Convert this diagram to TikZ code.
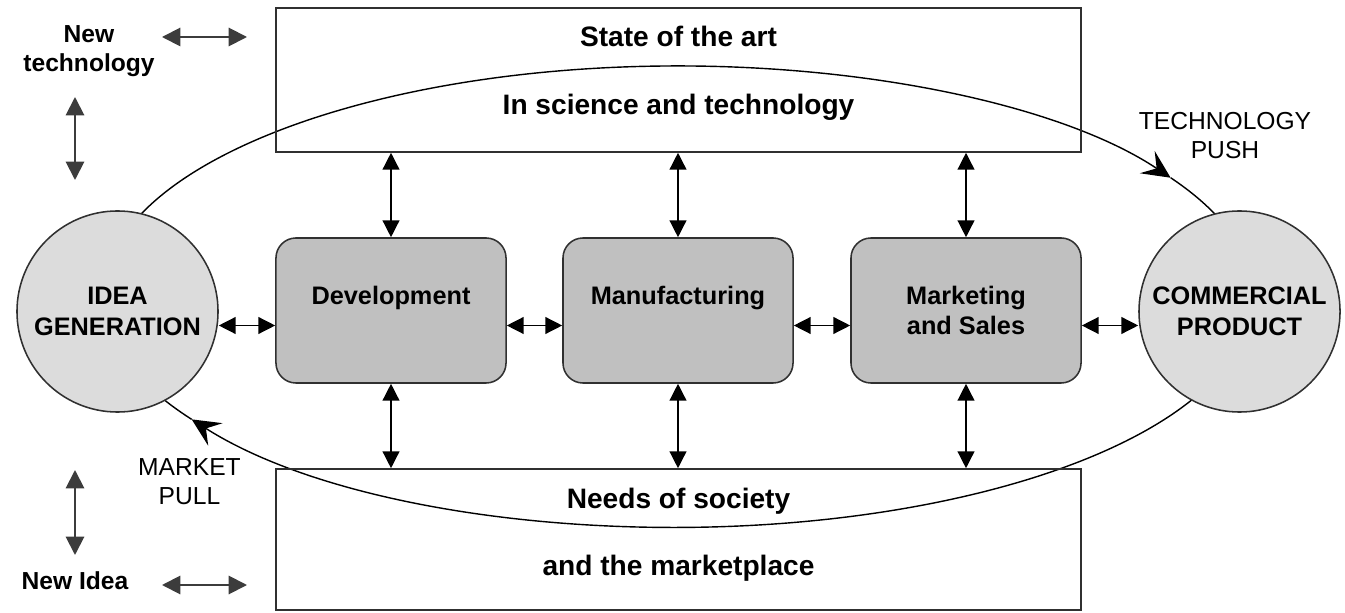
\documentclass[tikz,border=0pt]{standalone}
\usepackage{fontspec}
\setmainfont{Liberation Sans}
\usetikzlibrary{arrows.meta, positioning}
\definecolor{nodegray}{HTML}{DCDCDC}
\definecolor{boxgray}{HTML}{C0C0C0}
\definecolor{edgegray}{HTML}{303030}
\definecolor{hintgray}{HTML}{3C3C3C}

\begin{document}
\begin{tikzpicture}[
    x=0.025cm, y=0.025cm,
    frame/.style={draw=edgegray, line width=1.1pt,
        minimum width=20.125cm, inner sep=0pt},
    boxtext/.style={anchor=base, font=\bfseries\fontsize{20}{24}\selectfont},
    stage/.style={draw=edgegray, fill=boxgray, line width=1.1pt,
        rounded corners=0.5cm, minimum width=5.75cm, minimum height=3.625cm,
        align=center, font=\bfseries\fontsize{18}{21.5}\selectfont},
    endpoint/.style={circle, draw=edgegray, fill=nodegray, line width=1.1pt,
        minimum size=5.025cm, inner sep=0pt, align=center,
        font=\bfseries\fontsize{18}{22}\selectfont},
    sidetext/.style={align=center, font=\fontsize{17.5}{20.6}\selectfont},
    link/.style={{Triangle[length=12pt,width=12pt]}-{Triangle[length=12pt,width=12pt]},
        line width=1pt},
    hint/.style={{Triangle[length=13pt,width=13pt]}-{Triangle[length=13pt,width=13pt]},
        draw=hintgray, line width=1.4pt},
    flow/.style={-{Stealth[length=20pt,width=19pt,inset=8pt]}, line width=1pt}
]
    \useasboundingbox (0,0) rectangle (1345,612);

    % the loop between the two circles
    \coordinate (loop) at (678,315.5);
    \draw[flow] (loop) ++(180:14.365cm and 5.7625cm)
        arc[start angle=180, end angle=31, x radius=14.365cm, y radius=5.7625cm];
    \draw[flow] (loop) ++(31:14.365cm and 5.7625cm)
        arc[start angle=31, end angle=-147.8, x radius=14.365cm, y radius=5.7625cm];
    \draw[line width=1pt] (loop) ++(212.2:14.365cm and 5.7625cm)
        arc[start angle=212.2, end angle=180, x radius=14.365cm, y radius=5.7625cm];

    \node[frame, minimum height=3.6cm] (art) at (678.5,532) {};
    \node[frame, minimum height=3.525cm] (needs) at (678.5,72.5) {};
    \node[boxtext] (art1) at (678.5,565) {State of the art};
    \node[boxtext] (art2) at (678.5,497) {In science and technology};
    \node[boxtext] (needs1) at (678.5,104) {Needs of society};
    \node[boxtext] (needs2) at (678.5,37) {and the marketplace};

    \node[endpoint] (idea) at (117.5,300.5) {IDEA\\GENERATION};
    \node[endpoint] (prod) at (1239.5,300.5) {COMMERCIAL\\PRODUCT};
    \node[stage] (dev) at (391,301.5) {Development\\\mbox{}};
    \node[stage] (manu) at (678,301.5) {Manufacturing\\\mbox{}};
    \node[stage] (mark) at (966,301.5) {Marketing\\and Sales};

    \coordinate (mid) at (0,286.5);
    \draw[link] (idea.east |- mid) -- (dev.west |- mid);
    \draw[link] (dev.east |- mid) -- (manu.west |- mid);
    \draw[link] (manu.east |- mid) -- (mark.west |- mid);
    \draw[link] (mark.east |- mid) -- (prod.west |- mid);
    \foreach \s in {dev, manu, mark} {
        \draw[link] (art.south -| \s) -- (\s.north);
        \draw[link] (\s.south) -- (needs.north -| \s);
    }

    \node[sidetext] (push) at (1225,476.3) {TECHNOLOGY\\PUSH};
    \node[sidetext] (pull) at (189.5,130.5) {MARKET\\PULL};
    \node[sidetext, font=\bfseries\fontsize{17.5}{20.6}\selectfont] (newtech) at (89,560.7) {New\\technology};
    \node[sidetext, font=\bfseries\fontsize{17.5}{20.6}\selectfont] (newidea) at (75,31) {New Idea};

    \coordinate (techA) at (162,575);
    \coordinate (techB) at (247,575);
    \coordinate (techC) at (75,515);
    \coordinate (techD) at (75,432);
    \coordinate (ideaA) at (75,142);
    \coordinate (ideaB) at (75,57);
    \coordinate (ideaC) at (162,27);
    \coordinate (ideaD) at (247,27);
    \draw[hint] (techA) -- (techB);
    \draw[hint] (techC) -- (techD);
    \draw[hint] (ideaA) -- (ideaB);
    \draw[hint] (ideaC) -- (ideaD);
\end{tikzpicture}
\end{document}
